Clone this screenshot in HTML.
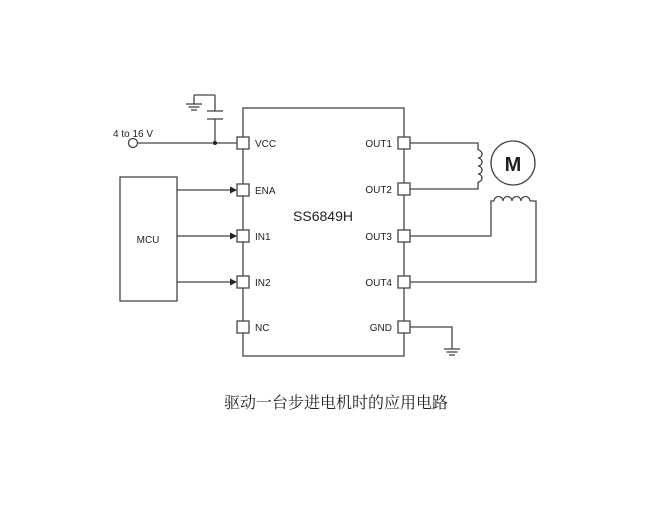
<!DOCTYPE html>
<html><head><meta charset="utf-8"><style>
body{margin:0;background:#fff;width:672px;height:515px;overflow:hidden}
svg text{font-family:"Liberation Sans",sans-serif;fill:#222}
</style></head><body>
<svg width="672" height="515" viewBox="0 0 672 515" xmlns="http://www.w3.org/2000/svg">
<g stroke="#444" stroke-width="1.3" fill="none">
<rect x="243" y="108" width="161" height="248"/>
<!-- supply -->
<circle cx="133" cy="143" r="4.5" fill="#fff"/>
<line x1="137.5" y1="143" x2="237" y2="143"/>
<line x1="215" y1="143" x2="215" y2="119"/>
<line x1="207" y1="119" x2="223" y2="119"/>
<line x1="207" y1="111" x2="223" y2="111"/>
<line x1="215" y1="111" x2="215" y2="95"/>
<line x1="215" y1="95" x2="194" y2="95"/>
<line x1="194" y1="95" x2="194" y2="104"/>
<line x1="186" y1="104" x2="202" y2="104"/>
<line x1="188.5" y1="107" x2="199.5" y2="107"/>
<line x1="191" y1="110" x2="197" y2="110"/>
<!-- MCU -->
<rect x="120" y="177" width="57" height="124"/>
<line x1="177" y1="190" x2="233" y2="190"/>
<line x1="177" y1="236" x2="233" y2="236"/>
<line x1="177" y1="282" x2="233" y2="282"/>
<!-- right wires -->
<polyline points="410,143 478,143 478,150"/>
<path d="M478,150 a4,4 0 0 1 0,8 a4,4 0 0 1 0,8 a4,4 0 0 1 0,8 a4,4 0 0 1 0,8"/>
<polyline points="478,182 478,189 410,189"/>
<circle cx="513" cy="163" r="22"/>
<polyline points="410,236 491,236 491,201 494,201"/>
<path d="M494,201 a4.5,4.5 0 0 1 9,0 a4.5,4.5 0 0 1 9,0 a4.5,4.5 0 0 1 9,0 a4.5,4.5 0 0 1 9,0"/>
<polyline points="530,201 536,201 536,282 410,282"/>
<polyline points="410,327 452,327 452,349"/>
<line x1="444" y1="349" x2="460" y2="349"/>
<line x1="446.5" y1="352" x2="457.5" y2="352"/>
<line x1="449" y1="355" x2="455" y2="355"/>
</g>
<g fill="#222">
<polygon points="237,190 230,186.5 230,193.5"/>
<polygon points="237,236 230,232.5 230,239.5"/>
<polygon points="237,282 230,278.5 230,285.5"/>
<circle cx="215" cy="143" r="2"/>
</g>
<g stroke="#444" stroke-width="1.3" fill="#fff">
<rect x="237" y="137" width="12" height="12"/>
<rect x="237" y="184" width="12" height="12"/>
<rect x="237" y="230" width="12" height="12"/>
<rect x="237" y="276" width="12" height="12"/>
<rect x="237" y="321" width="12" height="12"/>
<rect x="398" y="137" width="12" height="12"/>
<rect x="398" y="183" width="12" height="12"/>
<rect x="398" y="230" width="12" height="12"/>
<rect x="398" y="276" width="12" height="12"/>
<rect x="398" y="321" width="12" height="12"/>
</g>
<g font-size="10">
<text x="113" y="137">4 to 16 V</text>
<text x="255" y="147">VCC</text>
<text x="255" y="194">ENA</text>
<text x="255" y="240">IN1</text>
<text x="255" y="286">IN2</text>
<text x="255" y="331">NC</text>
<text x="392" y="147" text-anchor="end">OUT1</text>
<text x="392" y="193" text-anchor="end">OUT2</text>
<text x="392" y="240" text-anchor="end">OUT3</text>
<text x="392" y="286" text-anchor="end">OUT4</text>
<text x="392" y="331" text-anchor="end">GND</text>
<text x="148" y="243" text-anchor="middle">MCU</text>
</g>
<text x="323" y="221" font-size="14" text-anchor="middle">SS6849H</text>
<text x="513" y="171" font-size="20" font-weight="bold" text-anchor="middle">M</text>
<text x="336" y="408" font-size="16" text-anchor="middle" style="font-family:'Liberation Serif','Noto Serif CJK SC',serif">驱动一台步进电机时的应用电路</text>
</svg>
</body></html>
